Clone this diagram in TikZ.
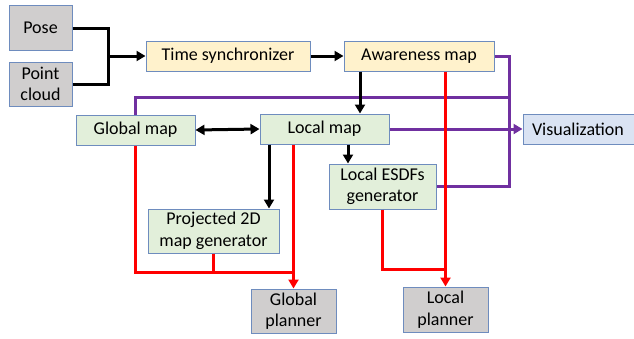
\documentclass[tikz,border=0pt]{standalone}
\usepackage{fontspec}
\setmainfont{Carlito}
\usetikzlibrary{arrows.meta}
\definecolor{bordc}{RGB}{110,140,190}
\definecolor{greyf}{RGB}{208,206,206}
\definecolor{yellf}{RGB}{255,242,204}
\definecolor{greenf}{RGB}{226,239,218}
\definecolor{bluef}{RGB}{218,227,243}
\definecolor{purp}{RGB}{112,48,160}
\definecolor{redc}{RGB}{255,0,0}
\tikzset{
  box/.style={draw=bordc, line width=1pt, inner sep=0pt, align=center,
    font=\fontsize{18}{21.5}\selectfont},
  gbox/.style={box, fill=greyf},
  ybox/.style={box, fill=yellf},
  grbox/.style={box, fill=greenf},
  bbox/.style={box, fill=bluef},
  tip/.style={-{Triangle[length=9pt,width=10pt]}},
  dtip/.style={{Triangle[length=9pt,width=10pt]}-{Triangle[length=9pt,width=10pt]}},
  blk/.style={line width=3pt, black},
  pur/.style={line width=3pt, purp},
  rd/.style={line width=3pt, redc},
}
\begin{document}
\begin{tikzpicture}[x=1pt,y=-1pt]
\useasboundingbox (0,0) rectangle (634,338);
% nodes
\node[gbox, minimum width=63pt, minimum height=45pt] (pose) at (40.5,28) {Pose};
\node[gbox, minimum width=63pt, minimum height=44pt] (pc) at (40.5,84) {Point\\cloud};
\node[ybox, minimum width=164pt, minimum height=30pt] (ts) at (228,56) {Time synchronizer};
\node[ybox, minimum width=150pt, minimum height=30pt] (aw) at (419,56) {Awareness map};
\node[grbox, minimum width=119pt, minimum height=30pt] (gm) at (135.5,130) {Global map};
\node[grbox, minimum width=129pt, minimum height=30pt] (lm) at (324.5,129) {Local map};
\node[bbox, minimum width=117pt, minimum height=30pt, text width=111pt, align=left] (vis) at (581.5,129) {\hspace*{6pt}Visualization};
\node[grbox, minimum width=107pt, minimum height=45pt] (esdf) at (382.5,186.5) {Local ESDFs\\generator};
\node[grbox, minimum width=131pt, minimum height=44pt] (pr) at (213.5,231) {Projected 2D\\map generator};
\node[gbox, minimum width=85pt, minimum height=44pt] (gp) at (293.5,311) {Global\\planner};
\node[gbox, minimum width=85pt, minimum height=45pt] (lp) at (445.5,309.5) {Local\\planner};
% helper coordinates
\coordinate (j1) at (108,56);
\coordinate (c1) at (360,0);
\coordinate (c2) at (348,0);
\coordinate (c3) at (269,0);
\coordinate (p2) at (509,186.5);
\coordinate (p3) at (509,97);
\coordinate (r1) at (293.5,272);
\coordinate (r2) at (445.5,269);
% purple
\draw[pur] (aw.east) -| (p2) -- (esdf.east);
\draw[pur] (gm.north) |- (p3);
\draw[pur, tip] (lm.east) -- (vis.west);
% black
\draw[blk] (pose.east) -| (j1);
\draw[blk] (pc.east) -| (j1);
\draw[blk, tip] (j1) -- (ts.west);
\draw[blk, tip] (ts.east) -- (aw.west);
\draw[blk, tip] (aw.south -| c1) -- (lm.north -| c1);
\draw[blk, dtip] (gm.east) -- (lm.west);
\draw[blk, tip] (lm.south -| c2) -- (esdf.north -| c2);
\draw[blk, tip] (lm.south -| c3) -- (pr.north -| c3);
% red
\draw[rd] (gm.south) |- (r1);
\draw[rd] (pr.south) -- (pr.south |- r1);
\draw[rd, tip] (lm.south -| gp.north) -- (gp.north);
\draw[rd, tip] (aw.south -| lp.north) -- (lp.north);
\draw[rd] (esdf.south) |- (r2);
\end{tikzpicture}
\end{document}
